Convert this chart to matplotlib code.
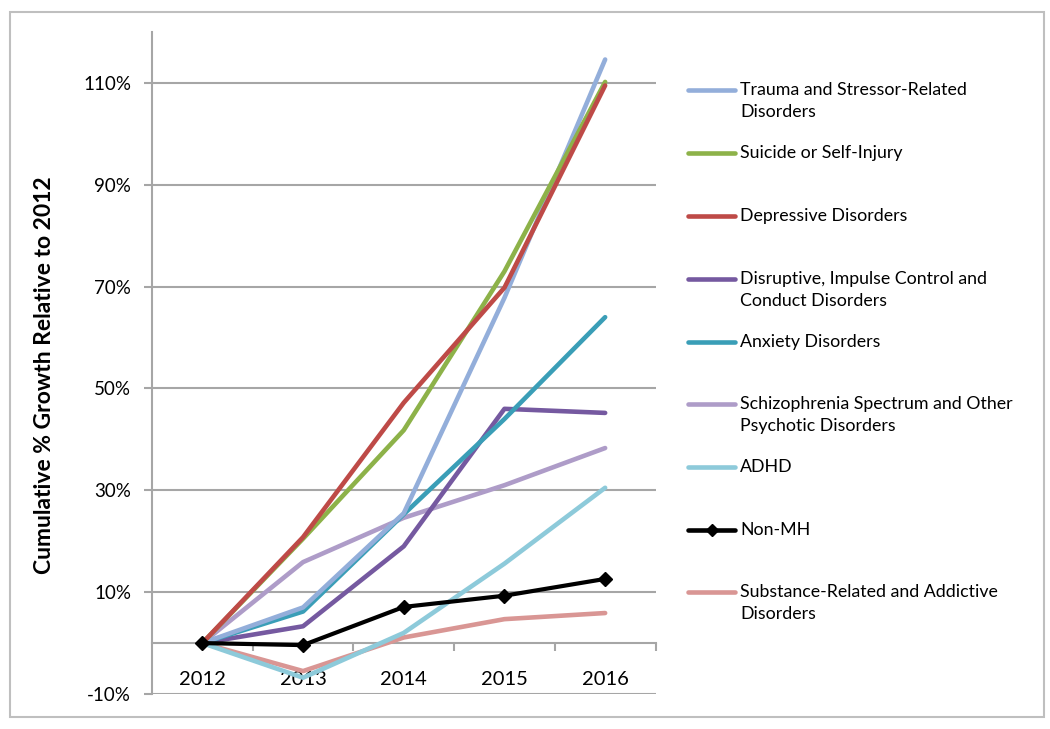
import matplotlib
matplotlib.use("Agg")
import matplotlib.pyplot as plt
from matplotlib.lines import Line2D
from matplotlib.patches import Rectangle
from matplotlib.ticker import FixedLocator, FuncFormatter

plt.rcParams['font.family'] = ['Lato', 'DejaVu Sans']

years = ["2012", "2013", "2014", "2015", "2016"]

series_names = [
    "Trauma and Stressor-Related\nDisorders",
    "Suicide or Self-Injury",
    "Depressive Disorders",
    "Disruptive, Impulse Control and\nConduct Disorders",
    "Anxiety Disorders",
    "Schizophrenia Spectrum and Other\nPsychotic Disorders",
    "ADHD",
    "Non-MH",
    "Substance-Related and Addictive\nDisorders",
]

trauma = [0.0, 7.0, 25.5, 67.8, 114.6]
suicide = [0.0, 20.5, 41.8, 73.0, 110.2]
depressive = [0.0, 20.8, 47.2, 69.8, 109.5]
disruptive = [0.0, 3.3, 19.0, 46.0, 45.2]
anxiety = [0.0, 6.2, 25.3, 44.0, 64.0]
schizo = [0.0, 15.9, 24.6, 31.0, 38.3]
adhd = [0.0, -6.8, 2.0, 15.6, 30.5]
non_mh = [0.0, -0.4, 7.1, 9.3, 12.6]
substance = [0.0, -5.5, 1.1, 4.7, 5.9]

all_values = [trauma, suicide, depressive, disruptive, anxiety, schizo, adhd, non_mh, substance]
colors = ["#93AEDA", "#8DB249", "#BE4A47", "#7559A0", "#3A9EB7",
          "#AE9CC8", "#8DCADA", "#000000", "#D99694"]

# draw order: mimic reference layering
draw_order = [8, 6, 5, 3, 4, 0, 1, 2, 7]

W, H = 1050, 729
fig = plt.figure(figsize=(W / 100, H / 100), dpi=100)

L, R, T, B = 152, 655.5, 32, 694
ax = fig.add_axes([L / W, 1 - B / H, (R - L) / W, (B - T) / H])

x = list(range(len(years)))
for i in draw_order:
    vals = [v / 100 for v in all_values[i]]
    if series_names[i] == "Non-MH":
        ax.plot(x, vals, color=colors[i], lw=3.0, marker='D', markersize=7,
                solid_capstyle='round', zorder=5)
    else:
        ax.plot(x, vals, color=colors[i], lw=3.3, solid_capstyle='round',
                solid_joinstyle='round', zorder=3)

ax.set_xlim(-0.5, len(years) - 0.5)
ax.set_ylim(-0.10, 1.20)

grid_c = "#A6A6A6"
yt = [-0.10, 0.10, 0.30, 0.50, 0.70, 0.90, 1.10]
ax.yaxis.set_major_locator(FixedLocator(yt))
ax.yaxis.set_major_formatter(FuncFormatter(lambda v, p: f"{round(v*100):d}%"))
ax.grid(axis='y', color=grid_c, lw=1.5, zorder=1)
ax.set_axisbelow(True)

for s in ['top', 'right']:
    ax.spines[s].set_visible(False)
ax.spines['left'].set_color(grid_c)
ax.spines['left'].set_linewidth(1.5)
ax.spines['bottom'].set_position(('data', 0))
ax.spines['bottom'].set_color(grid_c)
ax.spines['bottom'].set_linewidth(1.5)

ax.tick_params(axis='y', direction='out', length=6, width=1.5, color=grid_c,
               labelsize=13.5, pad=9, labelcolor='black')

# x: boundary ticks (major), labels at categories (minor)
ax.set_xticks([i - 0.5 for i in range(1, len(years) + 1)])
ax.set_xticklabels([])
ax.set_xticks(x, minor=True)
ax.set_xticklabels(years, minor=True)
ax.tick_params(axis='x', which='major', direction='out', length=6, width=1.5, color=grid_c)
ax.tick_params(axis='x', which='minor', length=0, labelsize=14.5, pad=20, labelcolor='black')

ax.set_ylabel("Cumulative % Growth Relative to 2012", fontsize=16.5, fontweight='bold')
ax.yaxis.set_label_coords((55 - L) / (R - L), (B - 375) / (B - T))

# manual legend
entry_y = [90, 153, 216, 279, 342, 404, 467, 530, 592]
for i, yy in enumerate(entry_y):
    fy = 1 - yy / H
    ln = Line2D([688 / W, 735 / W], [fy, fy], transform=fig.transFigure,
                color=colors[i], lw=3.3, solid_capstyle='round')
    if series_names[i] == "Non-MH":
        ln.set_marker('D')
        ln.set_markersize(6)
        ln.set_markevery([1])
        ln.set_data([688 / W, 711.5 / W, 735 / W], [fy, fy, fy])
    fig.add_artist(ln)
    fig.text(740 / W, fy + 8 / H, series_names[i], fontsize=12.8, va='top', ha='left',
             linespacing=1.45)

# outer border
fig.add_artist(Rectangle((10 / W, 1 - 717 / H), (1044 - 10) / W, (717 - 12) / H,
                         transform=fig.transFigure, fill=False, edgecolor="#BFBFBF", lw=1.5))

fig.savefig("out.png", dpi=100, facecolor='white')
